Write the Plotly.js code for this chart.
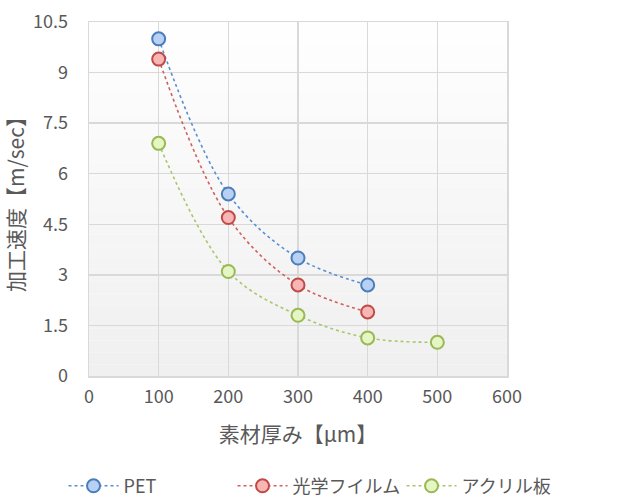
<!DOCTYPE html>
<html><head><meta charset="utf-8">
<script src="https://cdn.plot.ly/plotly-3.0.1.min.js"></script>
<style>body{margin:0;background:#fff}#c{width:620px;height:498px}</style>
</head><body><div id="c"></div>
<script>
const xPET = [100, 200, 300, 400];
const yPET = [10.0, 5.4, 3.5, 2.7];
const xOpt = [100, 200, 300, 400];
const yOpt = [9.4, 4.7, 2.7, 1.9];
const xAcr = [100, 200, 300, 400, 500];
const yAcr = [6.9, 3.1, 1.8, 1.13, 1.0];
const names = ['PET', '光学フイルム', 'アクリル板'];
const xTicks = [0, 100, 200, 300, 400, 500, 600];
const yTicks = [0, 1.5, 3, 4.5, 6, 7.5, 9, 10.5];
const yTickText = ['0', '1.5', '3', '4.5', '6', '7.5', '9', '10.5'];

const FONT = '"Noto Sans CJK JP", "Noto Sans", sans-serif';
function tr(x, y, name, lc, fill, edge) {
  return {x, y, name, type: 'scatter', mode: 'lines+markers',
    line: {shape: 'spline', smoothing: 1.0, dash: 'dot', width: 1.6, color: lc},
    marker: {symbol: 'circle', size: 13, color: fill, line: {color: edge, width: 2}}};
}
const data = [
  tr(xPET, yPET, names[0], '#5b8ed1', '#b9d0f5', '#4a7ebb'),
  tr(xOpt, yOpt, names[1], '#d0605d', '#f7b5b3', '#be4b48'),
  tr(xAcr, yAcr, names[2], '#a7c76a', '#e5f5c4', '#98b954')
];
const shapes = [];
const N = 30;
for (let i = 0; i < N; i++) {
  const t = i / (N - 1);
  const v = Math.round(254 - t * 14);
  shapes.push({type: 'rect', xref: 'x domain', yref: 'y domain', layer: 'below',
    x0: 0, x1: 1, y0: 1 - (i + 1) / N, y1: 1 - i / N,
    line: {width: 0}, fillcolor: `rgb(${v},${v},${v})`});
}
const layout = {
  width: 620, height: 498,
  margin: {l: 89, r: 113, t: 22, b: 122, autoexpand: false},
  paper_bgcolor: '#ffffff', plot_bgcolor: 'rgba(0,0,0,0)',
  font: {family: FONT, color: '#595959', size: 18},
  showlegend: true,
  legend: {orientation: 'h', x: 1.152, xanchor: 'right', y: -0.311, yanchor: 'middle',
    font: {size: 18, color: '#595959'}, itemwidth: 50, entrywidth: 104,
    entrywidthmode: 'pixels', traceorder: 'normal'},
  xaxis: {range: [0, 600], tickvals: xTicks, ticktext: xTicks.map(String),
    showgrid: true, gridcolor: '#d9d9d9', gridwidth: 1.5, zeroline: false,
    showline: true, linecolor: '#d9d9d9', linewidth: 1.5, mirror: true,
    ticks: '', ticklabelstandoff: 4, automargin: false,
    title: {text: '素材厚み【μm】', font: {size: 21, color: '#595959'}, standoff: 20}},
  yaxis: {range: [0, 10.5], tickvals: yTicks, ticktext: yTickText,
    showgrid: true, gridcolor: '#d9d9d9', gridwidth: 1.5, zeroline: false,
    showline: true, linecolor: '#d9d9d9', linewidth: 1.5, mirror: true,
    ticks: '', ticklabelstandoff: 16, automargin: false,
    title: {text: '加工速度【m/sec】', font: {size: 21, color: '#595959'}, standoff: 8}},
  shapes: shapes
};
Plotly.newPlot('c', data, layout, {displayModeBar: false, staticPlot: true});
</script></body></html>
